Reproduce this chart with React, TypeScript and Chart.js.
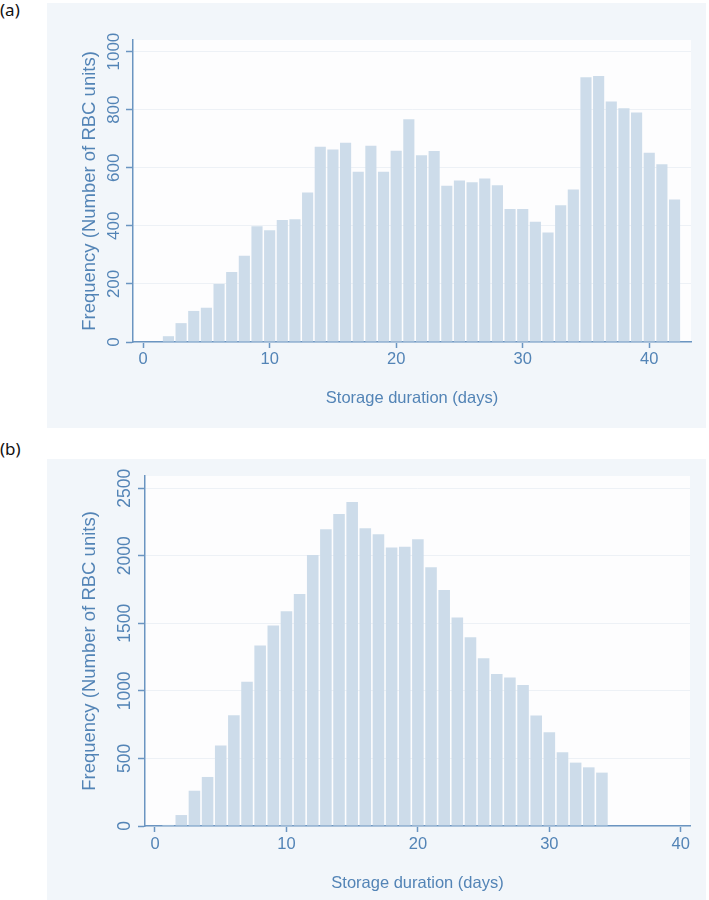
import React, { useEffect, useRef } from 'react';
import { Chart, registerables, Plugin } from 'chart.js';

Chart.register(...registerables);

// panel (a)
const daysA = [2, 3, 4, 5, 6, 7, 8, 9, 10, 11, 12, 13, 14, 15, 16, 17, 18, 19, 20, 21, 22, 23, 24, 25, 26, 27, 28, 29, 30, 31, 32, 33, 34, 35, 36, 37, 38, 39, 40, 41, 42];
const freqA = [20, 65, 107, 118, 200, 241, 297, 399, 385, 420, 423, 515, 672, 663, 686, 586, 676, 586, 659, 767, 643, 658, 538, 556, 550, 563, 540, 458, 458, 414, 377, 471, 525, 912, 916, 828, 805, 790, 652, 612, 491];
const xTicksA = [0, 10, 20, 30, 40];
const yTicksA = [0, 200, 400, 600, 800, 1000];

// panel (b)
const daysB = [1, 2, 3, 4, 5, 6, 7, 8, 9, 10, 11, 12, 13, 14, 15, 16, 17, 18, 19, 20, 21, 22, 23, 24, 25, 26, 27, 28, 29, 30, 31, 32, 33, 34];
const freqB = [8, 81, 261, 363, 595, 819, 1068, 1335, 1483, 1589, 1717, 2006, 2196, 2309, 2398, 2203, 2159, 2060, 2067, 2122, 1915, 1747, 1542, 1397, 1241, 1125, 1098, 1044, 817, 693, 545, 469, 434, 395];
const xTicksB = [0, 10, 20, 30, 40];
const yTicksB = [0, 500, 1000, 1500, 2000, 2500];

const xTitle = 'Storage duration (days)';
const yTitle = 'Frequency (Number of RBC units)';

const TEXT = '#5384b6';
const AXIS = '#6b95c1';
const BAR = '#cddcea';
const GRID = '#edf1f6';
const PANEL = '#f2f6fa';
const FONT = '"Liberation Sans", Arial, sans-serif';

const plotBg: Plugin = {
    id: 'plotBg',
    beforeDraw(chart) {
        const { ctx, chartArea } = chart;
        ctx.save();
        ctx.fillStyle = '#fdfdfe';
        ctx.fillRect(chartArea.left, chartArea.top, chartArea.width, chartArea.height);
        ctx.restore();
    }
};

type HistProps = {
    days: number[];
    freq: number[];
    xTicks: number[];
    yTicks: number[];
    xMin: number;
    xMax: number;
    yMax: number;
    width: number;
    height: number;
    padTop: number;
    padRight: number;
    yAxisWidth: number;
    xAxisHeight: number;
    yTickFont: number;
    yTickPad: number;
    yTitleFont: number;
    yTitlePad: number;
    xTickFont: number;
    xTickPad: number;
    xTitleFont: number;
    xTitlePad: number;
};

const Histogram: React.FC<HistProps> = (p) => {
    const chartRef = useRef<HTMLCanvasElement>(null);
    const chartInstance = useRef<Chart | null>(null);

    useEffect(() => {
        if (chartInstance.current) {
            chartInstance.current.destroy();
        }
        const ctx = chartRef.current?.getContext('2d');
        if (!ctx) return;

        chartInstance.current = new Chart(ctx, {
            type: 'bar',
            data: {
                datasets: [{
                    data: p.days.map((d, i) => ({ x: d, y: p.freq[i] })),
                    backgroundColor: BAR,
                    borderWidth: 0,
                    barPercentage: 0.88,
                    categoryPercentage: 1
                }]
            },
            plugins: [plotBg],
            options: {
                responsive: false,
                animation: false,
                layout: { padding: { top: p.padTop, right: p.padRight, left: 0, bottom: 0 } },
                plugins: {
                    legend: { display: false },
                    tooltip: { enabled: false }
                },
                scales: {
                    x: {
                        type: 'linear',
                        min: p.xMin,
                        max: p.xMax,
                        offset: false,
                        grid: {
                            offset: false,
                            drawOnChartArea: false,
                            drawTicks: true,
                            tickLength: 6,
                            tickColor: AXIS,
                            tickWidth: 1.5
                        },
                        border: { color: AXIS, width: 1.5 },
                        ticks: {
                            color: TEXT,
                            font: { family: FONT, size: p.xTickFont },
                            padding: p.xTickPad,
                            maxRotation: 0,
                            callback: (v) => String(v)
                        },
                        afterBuildTicks: (scale) => {
                            scale.ticks = p.xTicks.map(v => ({ value: v }));
                        },
                        afterFit: (scale) => {
                            scale.height = p.xAxisHeight;
                        },
                        title: {
                            display: true,
                            text: xTitle,
                            color: TEXT,
                            font: { family: FONT, size: p.xTitleFont },
                            padding: { top: 0, bottom: p.xTitlePad }
                        }
                    },
                    y: {
                        min: 0,
                        max: p.yMax,
                        grid: {
                            color: GRID,
                            drawTicks: true,
                            tickLength: 7,
                            tickColor: AXIS,
                            tickWidth: 1.5
                        },
                        border: { color: AXIS, width: 1.5 },
                        ticks: {
                            color: TEXT,
                            font: { family: FONT, size: p.yTickFont },
                            padding: p.yTickPad,
                            minRotation: 90,
                            maxRotation: 90,
                            crossAlign: 'center',
                            callback: (v) => String(v)
                        },
                        afterBuildTicks: (scale) => {
                            scale.ticks = p.yTicks.map(v => ({ value: v }));
                        },
                        afterFit: (scale) => {
                            scale.width = p.yAxisWidth;
                        },
                        title: {
                            display: true,
                            text: yTitle,
                            color: TEXT,
                            font: { family: FONT, size: p.yTitleFont },
                            padding: { top: p.yTitlePad, bottom: 0 }
                        }
                    }
                }
            }
        });

        return () => {
            chartInstance.current?.destroy();
            chartInstance.current = null;
        };
    }, []);

    return (
        <canvas ref={chartRef} width={p.width} height={p.height} style={{ display: 'block' }}></canvas>
    );
};

const labelStyle: React.CSSProperties = {
    position: 'absolute',
    left: 0,
    fontFamily: '"Noto Sans", "Open Sans", sans-serif',
    fontSize: 17,
    color: '#111',
    lineHeight: '20px'
};

const App: React.FC = () => {
    return (
        <div style={{ position: 'absolute', left: 0, top: 0, width: 709, height: 900, background: '#fff', overflow: 'hidden' }}>
            <div style={{ ...labelStyle, top: 0 }}>(a)</div>
            <div style={{ position: 'absolute', left: 47, top: 3, width: 659, height: 425, background: PANEL }}>
                <Histogram
                    days={daysA} freq={freqA} xTicks={xTicksA} yTicks={yTicksA}
                    xMin={-0.8} xMax={43.3} yMax={1040}
                    width={659} height={425}
                    padTop={37} padRight={15}
                    yAxisWidth={86} xAxisHeight={86}
                    yTickFont={17} yTickPad={-7.6} yTitleFont={18.5} yTitlePad={32}
                    xTickFont={16.5} xTickPad={2} xTitleFont={16.5} xTitlePad={20}
                />
            </div>
            <div style={{ ...labelStyle, top: 439 }}>(b)</div>
            <div style={{ position: 'absolute', left: 47, top: 459, width: 659, height: 441, background: PANEL }}>
                <Histogram
                    days={daysB} freq={freqB} xTicks={xTicksB} yTicks={yTicksB}
                    xMin={-0.76} xMax={40.7} yMax={2590}
                    width={659} height={441}
                    padTop={17} padRight={16}
                    yAxisWidth={98} xAxisHeight={74}
                    yTickFont={17.5} yTickPad={-6.5} yTitleFont={18.5} yTitlePad={31.4}
                    xTickFont={16.5} xTickPad={3} xTitleFont={16.5} xTitlePad={7}
                />
            </div>
        </div>
    );
};

export default App;
